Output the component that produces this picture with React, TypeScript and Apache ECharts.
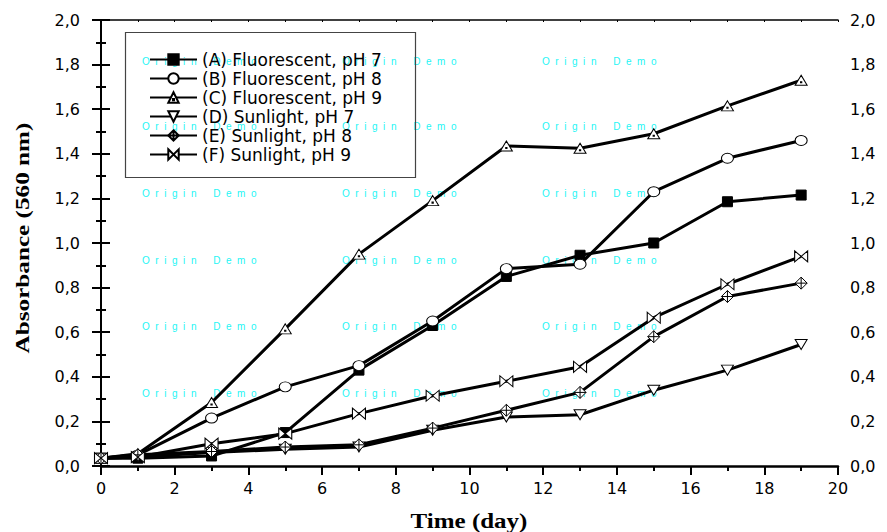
import React, { useEffect, useRef } from 'react';
import * as echarts from 'echarts';

const days = [0, 1, 3, 5, 7, 9, 11, 13, 15, 17, 19];
const fluorescentPH7 = [0.035, 0.035, 0.045, 0.15, 0.43, 0.63, 0.85, 0.945, 1.0, 1.185, 1.215];
const fluorescentPH8 = [0.035, 0.05, 0.215, 0.355, 0.45, 0.65, 0.885, 0.905, 1.23, 1.38, 1.46];
const fluorescentPH9 = [0.035, 0.055, 0.285, 0.615, 0.95, 1.19, 1.435, 1.425, 1.49, 1.615, 1.73];
const sunlightPH7 = [0.035, 0.04, 0.06, 0.075, 0.085, 0.16, 0.22, 0.23, 0.34, 0.43, 0.545];
const sunlightPH8 = [0.035, 0.05, 0.065, 0.085, 0.095, 0.17, 0.25, 0.33, 0.58, 0.76, 0.82];
const sunlightPH9 = [0.035, 0.04, 0.1, 0.145, 0.235, 0.315, 0.38, 0.445, 0.665, 0.815, 0.94];

const seriesNames = [
  '(A) Fluorescent, pH 7',
  '(B) Fluorescent, pH 8',
  '(C) Fluorescent, pH 9',
  '(D) Sunlight, pH 7',
  '(E) Sunlight, pH 8',
  '(F) Sunlight, pH 9',
];
const xTitle = 'Time (day)';
const yTitle = 'Absorbance (560 nm)';
const NB = '\u00a0';
const watermark = ['O', 'r', 'i', 'g', 'i', 'n', '', '', 'D', 'e', 'm', 'o'].join(NB + ' ');

const SYM_ELLIPSE = 'path://M0,5 A6,5 0 1,0 12,5 A6,5 0 1,0 0,5 Z';
const SYM_TRI_UP = 'path://M5,0 L10,9 L0,9 Z M4.5,5.8 L5.5,5.8 L5.5,6.8 L4.5,6.8 Z';
const SYM_TRI_DOWN = 'path://M0,0 L10,0 L5,9 Z';
const SYM_DIAMOND_PLUS = 'path://M5,0 L10,5 L5,10 L0,5 Z M5,0 L5,10 M0,5 L10,5';
const SYM_BOWTIE = 'path://M0,0 L10,10 L10,0 L0,10 Z';

export default function App() {
  const ref = useRef<HTMLDivElement>(null);
  useEffect(() => {
    if (!ref.current) return;
    const chart = echarts.init(ref.current, undefined, { renderer: 'svg' });

    const mk = (name: string, values: number[], symbol: string, size: any, fill: string) => ({
      name,
      type: 'line',
      data: days.map((d, i) => [d, values[i]]),
      symbol,
      symbolSize: size,
      showSymbol: true,
      xAxisIndex: 0,
      yAxisIndex: 0,
      lineStyle: { color: '#000', width: 3 },
      itemStyle: { color: fill, borderColor: '#000', borderWidth: 1, opacity: 1 },
      emphasis: { disabled: true },
      z: 3,
    });

    const labelFmt = (v: number) => v.toFixed(1).replace('.', ',');
    const axisFont = { fontFamily: 'DejaVu Sans', fontSize: 16, color: '#000' };

    const yAxisBase = {
      type: 'value',
      min: 0,
      max: 2,
      interval: 0.2,
      axisLine: { show: true, lineStyle: { color: '#000', width: 2 } },
      axisTick: { show: true, inside: false, length: 9, lineStyle: { color: '#000', width: 2 } },
      minorTick: { show: true, splitNumber: 2, length: 5, lineStyle: { color: '#000', width: 2 } },
      splitLine: { show: false },
      minorSplitLine: { show: false },
    };

    const waterTexts: any[] = [];
    const wx = [142, 342, 542];
    const wy = [61, 126, 193, 260, 326, 393];
    wy.forEach((y) =>
      wx.forEach((x) =>
        waterTexts.push({
          type: 'text',
          x,
          y,
          silent: true,
          z: 0,
          style: {
            text: watermark,
            fill: '#1ff5f5',
            font: '10px "Liberation Sans", Arial, sans-serif',
            align: 'left',
            verticalAlign: 'middle',
          },
        })
      )
    );

    chart.setOption({
      animation: false,
      backgroundColor: '#fff',
      grid: { left: 101, right: 49, top: 20, bottom: 66, containLabel: false },
      xAxis: [
        {
          type: 'value',
          position: 'bottom',
          min: 0,
          max: 20,
          interval: 2,
          axisLine: { show: true, onZero: false, lineStyle: { color: '#000', width: 2.5 } },
          axisTick: { show: true, length: 9, lineStyle: { color: '#000', width: 2 } },
          minorTick: { show: true, splitNumber: 2, length: 5, lineStyle: { color: '#000', width: 2 } },
          axisLabel: { ...axisFont, margin: 14 },
          splitLine: { show: false },
          minorSplitLine: { show: false },
        },
        {
          type: 'value',
          position: 'top',
          min: 0,
          max: 20,
          interval: 1,
          axisLine: { show: true, onZero: false, lineStyle: { color: '#000', width: 1.5 } },
          axisTick: { show: true, inside: true, length: 2, lineStyle: { color: '#000', width: 1 } },
          axisLabel: { show: false },
          splitLine: { show: false },
        },
      ],
      yAxis: [
        {
          ...yAxisBase,
          position: 'left',
          axisLabel: { ...axisFont, margin: 21, formatter: labelFmt },
        },
        {
          ...yAxisBase,
          position: 'right',
          axisLabel: { ...axisFont, margin: 12, formatter: labelFmt },
        },
      ],
      legend: {
        orient: 'vertical',
        left: 149,
        top: 51,
        padding: 0,
        itemWidth: 47,
        itemHeight: 13,
        itemGap: 2,
        selectedMode: false,
        textStyle: { fontFamily: 'DejaVu Sans', fontSize: 17, color: '#000', lineHeight: 13 },
        data: seriesNames,
      },
      graphic: [
        ...waterTexts,
        {
          type: 'rect',
          silent: true,
          z: 1,
          shape: { x: 125.5, y: 32.5, width: 290, height: 145 },
          style: { fill: 'none', stroke: '#444', lineWidth: 1.2 },
        },
        {
          type: 'text',
          x: 469,
          y: 521,
          scaleX: 1.25,
          silent: true,
          style: {
            text: xTitle,
            font: 'bold 20px "Liberation Serif", "Times New Roman", serif',
            fill: '#000',
            align: 'center',
            verticalAlign: 'middle',
          },
        },
        {
          type: 'text',
          x: 23,
          y: 238,
          rotation: Math.PI / 2,
          scaleX: 1.4,
          silent: true,
          style: {
            text: yTitle,
            font: 'bold 18px "Liberation Serif", "Times New Roman", serif',
            fill: '#000',
            align: 'center',
            verticalAlign: 'middle',
          },
        },
      ],
      series: [
        mk(seriesNames[0], fluorescentPH7, 'rect', 10, '#000'),
        mk(seriesNames[1], fluorescentPH8, SYM_ELLIPSE, [12, 10], '#fff'),
        mk(seriesNames[2], fluorescentPH9, SYM_TRI_UP, [12, 10], '#fff'),
        mk(seriesNames[3], sunlightPH7, SYM_TRI_DOWN, [12, 10], '#fff'),
        mk(seriesNames[4], sunlightPH8, SYM_DIAMOND_PLUS, [12, 12], '#fff'),
        mk(seriesNames[5], sunlightPH9, SYM_BOWTIE, [13, 11], '#fff'),
      ],
    });

    return () => chart.dispose();
  }, []);

  return (
    <div
      ref={ref}
      style={{ position: 'fixed', left: 0, top: 0, width: 887, height: 532, background: '#fff' }}
    />
  );
}
